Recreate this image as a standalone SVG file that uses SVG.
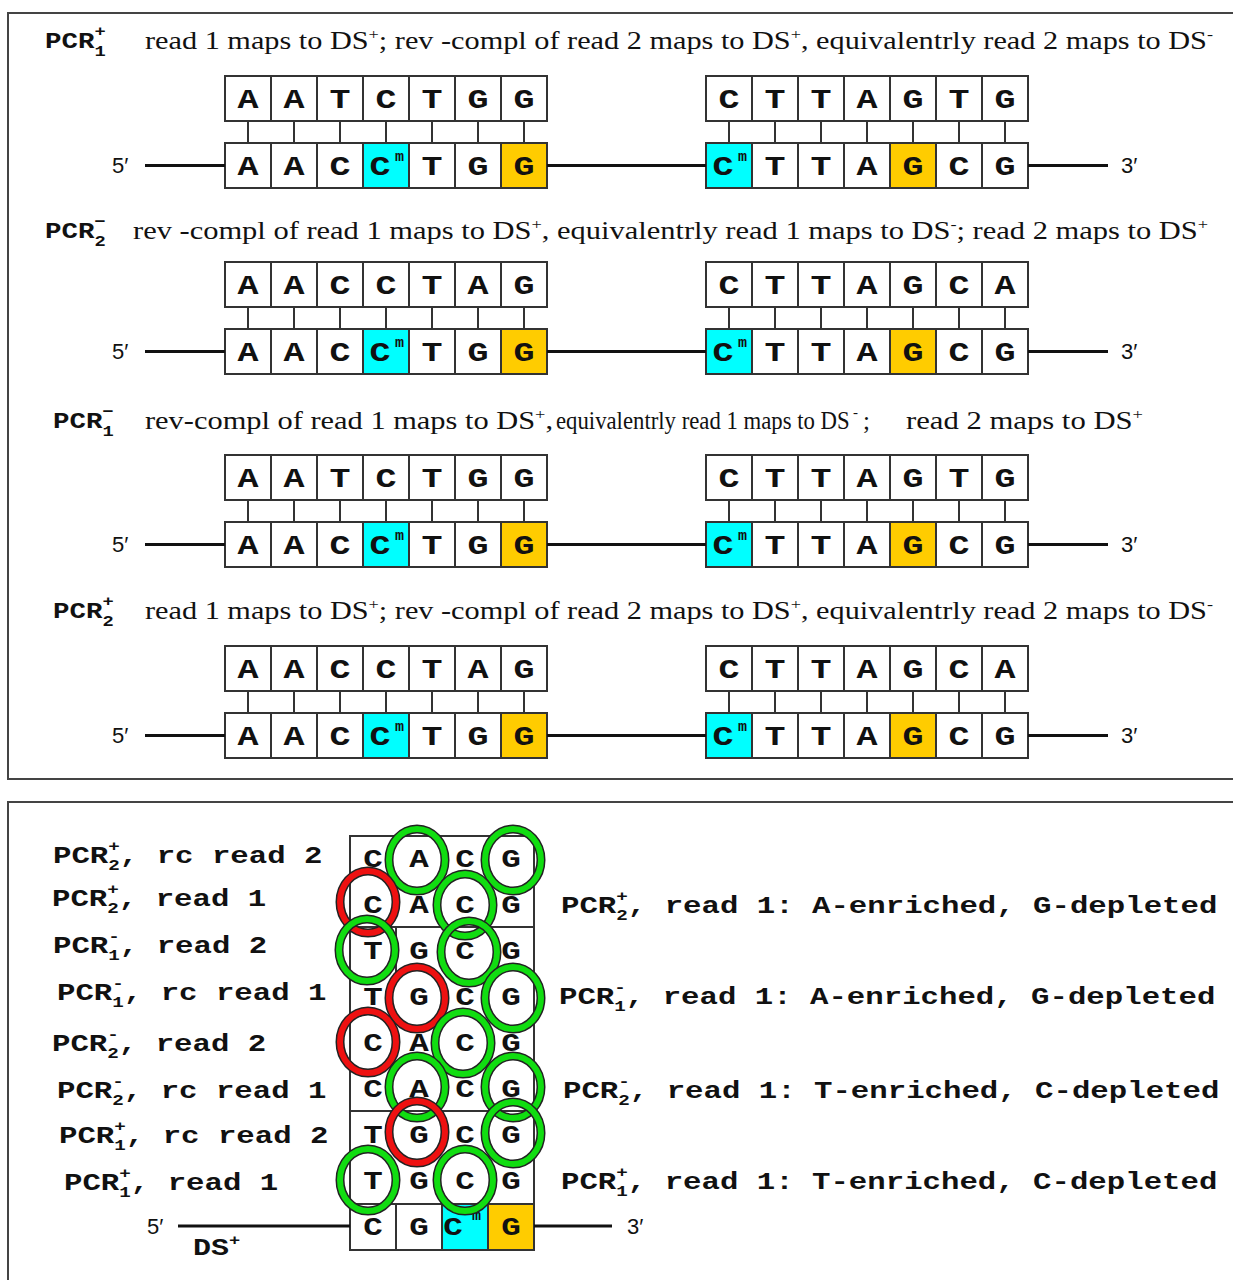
<svg xmlns="http://www.w3.org/2000/svg" width="1233" height="1280" viewBox="0 0 1233 1280">
<style>
.panel{fill:#fff;stroke:#444;stroke-width:2}
.c{fill:#fff;stroke:#333;stroke-width:2}
.cy{fill:#00ffff;stroke:#333;stroke-width:2}
.gd{fill:#ffcc00;stroke:#333;stroke-width:2}
.tk{stroke:#333;stroke-width:2;fill:none}
.st{stroke:#111;stroke-width:3;fill:none}
.L{font-family:"Liberation Mono",monospace;font-weight:bold;font-size:28px;text-anchor:middle;fill:#111}
.m{font-family:"Liberation Mono",monospace;font-weight:bold;font-size:15px;fill:#111}
.h{font-family:"Liberation Serif",serif;font-size:25px;fill:#111}
.sp{font-size:15px}
.p{font-family:"Liberation Mono",monospace;font-weight:bold;font-size:22px;fill:#111}
.s{font-size:15px}
.e{font-family:"Liberation Sans",sans-serif;font-size:22px;fill:#111}
.lab{font-family:"Liberation Mono",monospace;font-weight:bold;font-size:24px;fill:#111}
.g{font-family:"Liberation Mono",monospace;font-weight:bold;font-size:26px;text-anchor:middle;fill:#111}
.rk{fill:none;stroke:#222;stroke-width:9}
.rg{fill:none;stroke:#11dd11;stroke-width:6}
.rr{fill:none;stroke:#ee1111;stroke-width:6}
</style>
<defs>
<g id="duplex">
<path class="tk" d="M248 121V143M294 121V143M340 121V143M386 121V143M432 121V143M478 121V143M524 121V143M729 121V143M775 121V143M821 121V143M867 121V143M913 121V143M959 121V143M1005 121V143"/>
<rect class="c" x="225" y="76" width="46" height="45"/><rect class="c" x="271" y="76" width="46" height="45"/><rect class="c" x="317" y="76" width="46" height="45"/><rect class="c" x="363" y="76" width="46" height="45"/><rect class="c" x="409" y="76" width="46" height="45"/><rect class="c" x="455" y="76" width="46" height="45"/><rect class="c" x="501" y="76" width="46" height="45"/>
<rect class="c" x="706" y="76" width="46" height="45"/><rect class="c" x="752" y="76" width="46" height="45"/><rect class="c" x="798" y="76" width="46" height="45"/><rect class="c" x="844" y="76" width="46" height="45"/><rect class="c" x="890" y="76" width="46" height="45"/><rect class="c" x="936" y="76" width="46" height="45"/><rect class="c" x="982" y="76" width="46" height="45"/>
<rect class="c" x="225" y="143" width="46" height="45"/><rect class="c" x="271" y="143" width="46" height="45"/><rect class="c" x="317" y="143" width="46" height="45"/><rect class="cy" x="363" y="143" width="46" height="45"/><rect class="c" x="409" y="143" width="46" height="45"/><rect class="c" x="455" y="143" width="46" height="45"/><rect class="gd" x="501" y="143" width="46" height="45"/>
<rect class="cy" x="706" y="143" width="46" height="45"/><rect class="c" x="752" y="143" width="46" height="45"/><rect class="c" x="798" y="143" width="46" height="45"/><rect class="c" x="844" y="143" width="46" height="45"/><rect class="gd" x="890" y="143" width="46" height="45"/><rect class="c" x="936" y="143" width="46" height="45"/><rect class="c" x="982" y="143" width="46" height="45"/>
<path class="st" d="M145 165.5H225M547 165.5H706M1028 165.5H1108"/>
<text class="L" transform="scale(1.25 1)" x="198.4 235.2 272 304 345.6 382.4 419.2" y="175">AACCTGG</text>
<text class="L" transform="scale(1.25 1)" x="578.4 620 656.8 693.6 730.4 767.2 804" y="175">CTTAGCG</text>
<text class="m" x="395" y="161">m</text>
<text class="m" x="738" y="161">m</text>
<text class="e" x="112" y="173">5′</text>
<text class="e" x="1121" y="173">3′</text>
</g>
</defs>
<rect x="0" y="0" width="1233" height="1280" fill="#fff"/>
<rect class="panel" x="8" y="13" width="1240" height="766"/>
<rect class="panel" x="8" y="802" width="1240" height="500"/>

<g id="row1">
<text class="p" transform="translate(45 48) scale(1.25 1)">PCR<tspan class="s" dy="8">1</tspan><tspan class="s" dx="-9" dy="-20">+</tspan></text>
<text class="h" x="145" y="49" textLength="1068" lengthAdjust="spacingAndGlyphs">read 1 maps to DS<tspan class="sp" dy="-10">+</tspan><tspan dy="10">; rev -compl of read 2 maps to DS</tspan><tspan class="sp" dy="-10">+</tspan><tspan dy="10">, equivalentrly read 2 maps to DS</tspan><tspan class="sp" dy="-10">-</tspan></text>
<use href="#duplex"/>
<text class="L" transform="scale(1.25 1)" x="198.4 235.2 272 308.8 345.6 382.4 419.2" y="108">AATCTGG</text>
<text class="L" transform="scale(1.25 1)" x="583.2 620 656.8 693.6 730.4 767.2 804" y="108">CTTAGTG</text>
</g>

<g id="row2">
<text class="p" transform="translate(45 238) scale(1.25 1)">PCR<tspan class="s" dy="8">2</tspan><tspan class="s" dx="-9" dy="-20">−</tspan></text>
<text class="h" x="133" y="239" textLength="1075" lengthAdjust="spacingAndGlyphs">rev -compl of read 1 maps to DS<tspan class="sp" dy="-10">+</tspan><tspan dy="10">, equivalentrly read 1 maps to DS</tspan><tspan class="sp" dy="-10">-</tspan><tspan dy="10">; read 2 maps to DS</tspan><tspan class="sp" dy="-10">+</tspan></text>
<use href="#duplex" transform="translate(0 186)"/>
<text class="L" transform="scale(1.25 1)" x="198.4 235.2 272 308.8 345.6 382.4 419.2" y="294">AACCTAG</text>
<text class="L" transform="scale(1.25 1)" x="583.2 620 656.8 693.6 730.4 767.2 804" y="294">CTTAGCA</text>
</g>

<g id="row3">
<text class="p" transform="translate(53 428) scale(1.25 1)">PCR<tspan class="s" dy="8">1</tspan><tspan class="s" dx="-9" dy="-20">−</tspan></text>
<text class="h" x="145" y="429" textLength="408" lengthAdjust="spacingAndGlyphs">rev-compl of read 1 maps to DS<tspan class="sp" dy="-10">+</tspan><tspan dy="10">,</tspan></text>
<text class="h" transform="translate(556 429) scale(0.91 1)">equivalentrly read 1 maps to DS</text>
<text class="h sp" x="853" y="417">-</text>
<text class="h" x="863" y="429">;</text>
<text class="h" x="906" y="429" textLength="237" lengthAdjust="spacingAndGlyphs">read 2 maps to DS<tspan class="sp" dy="-10">+</tspan></text>
<use href="#duplex" transform="translate(0 379)"/>
<text class="L" transform="scale(1.25 1)" x="198.4 235.2 272 308.8 345.6 382.4 419.2" y="487">AATCTGG</text>
<text class="L" transform="scale(1.25 1)" x="583.2 620 656.8 693.6 730.4 767.2 804" y="487">CTTAGTG</text>
</g>

<g id="row4">
<text class="p" transform="translate(53 618) scale(1.25 1)">PCR<tspan class="s" dy="8">2</tspan><tspan class="s" dx="-9" dy="-20">+</tspan></text>
<text class="h" x="145" y="619" textLength="1068" lengthAdjust="spacingAndGlyphs">read 1 maps to DS<tspan class="sp" dy="-10">+</tspan><tspan dy="10">; rev -compl of read 2 maps to DS</tspan><tspan class="sp" dy="-10">+</tspan><tspan dy="10">, equivalentrly read 2 maps to DS</tspan><tspan class="sp" dy="-10">-</tspan></text>
<use href="#duplex" transform="translate(0 570)"/>
<text class="L" transform="scale(1.25 1)" x="198.4 235.2 272 308.8 345.6 382.4 419.2" y="678">AACCTAG</text>
<text class="L" transform="scale(1.25 1)" x="583.2 620 656.8 693.6 730.4 767.2 804" y="678">CTTAGCA</text>
</g>

<g id="grid">
<rect class="c" x="350" y="836" width="184" height="414"/>
<rect class="cy" x="442" y="1204" width="46" height="46"/>
<rect class="gd" x="488" y="1204" width="46" height="46"/>
<path class="tk" d="M350 927H534M350 1111H534M350 1204H534M396 927V973M396 1204V1250M442 1204V1250"/>
<path class="st" d="M178 1226H350M534 1226H612"/>
<g transform="scale(1.25 1)">
<text class="g" x="298.4 335.2 372 408.8" y="867">CACG</text>
<text class="g" x="298.4 335.2 372 408.8" y="913">CACG</text>
<text class="g" x="298.4 335.2 372 408.8" y="959">TGCG</text>
<text class="g" x="298.4 335.2 372 408.8" y="1005">TGCG</text>
<text class="g" x="298.4 335.2 372 408.8" y="1051">CACG</text>
<text class="g" x="298.4 335.2 372 408.8" y="1097">CACG</text>
<text class="g" x="298.4 335.2 372 408.8" y="1143">TGCG</text>
<text class="g" x="298.4 335.2 372 408.8" y="1189">TGCG</text>
<text class="g" x="298.4 335.2" y="1235">CG</text>
<text class="g" x="362.4" y="1235">C</text>
<text class="g" x="408.8" y="1235">G</text>
</g>
<text class="m" x="472" y="1220">m</text>
<text class="e" x="147" y="1234">5′</text>
<text class="e" x="627" y="1234">3′</text>
<text class="lab" transform="translate(193 1255) scale(1.25 1)">DS<tspan class="s" dy="-10">+</tspan></text>
</g>

<g id="rings">
<ellipse class="rk" cx="417" cy="860" rx="28" ry="31"/><ellipse class="rg" cx="417" cy="860" rx="28" ry="31"/>
<ellipse class="rk" cx="513" cy="860" rx="28" ry="31"/><ellipse class="rg" cx="513" cy="860" rx="28" ry="31"/>
<ellipse class="rk" cx="368" cy="902" rx="28" ry="31"/><ellipse class="rr" cx="368" cy="902" rx="28" ry="31"/>
<ellipse class="rk" cx="465" cy="905" rx="28" ry="31"/><ellipse class="rg" cx="465" cy="905" rx="28" ry="31"/>
<ellipse class="rk" cx="367" cy="950" rx="28" ry="31"/><ellipse class="rg" cx="367" cy="950" rx="28" ry="31"/>
<ellipse class="rk" cx="469" cy="952" rx="28" ry="31"/><ellipse class="rg" cx="469" cy="952" rx="28" ry="31"/>
<ellipse class="rk" cx="417" cy="998" rx="28" ry="31"/><ellipse class="rr" cx="417" cy="998" rx="28" ry="31"/>
<ellipse class="rk" cx="513" cy="998" rx="28" ry="31"/><ellipse class="rg" cx="513" cy="998" rx="28" ry="31"/>
<ellipse class="rk" cx="368" cy="1042" rx="28" ry="31"/><ellipse class="rr" cx="368" cy="1042" rx="28" ry="31"/>
<ellipse class="rk" cx="463" cy="1043" rx="28" ry="31"/><ellipse class="rg" cx="463" cy="1043" rx="28" ry="31"/>
<ellipse class="rk" cx="417" cy="1087" rx="28" ry="31"/><ellipse class="rg" cx="417" cy="1087" rx="28" ry="31"/>
<ellipse class="rk" cx="513" cy="1087" rx="28" ry="31"/><ellipse class="rg" cx="513" cy="1087" rx="28" ry="31"/>
<ellipse class="rk" cx="417" cy="1132" rx="28" ry="31"/><ellipse class="rr" cx="417" cy="1132" rx="28" ry="31"/>
<ellipse class="rk" cx="513" cy="1133" rx="28" ry="31"/><ellipse class="rg" cx="513" cy="1133" rx="28" ry="31"/>
<ellipse class="rk" cx="368" cy="1180" rx="28" ry="31"/><ellipse class="rg" cx="368" cy="1180" rx="28" ry="31"/>
<ellipse class="rk" cx="465" cy="1180" rx="28" ry="31"/><ellipse class="rg" cx="465" cy="1180" rx="28" ry="31"/>
</g>

<g id="labels-left">
<text class="lab" transform="translate(53 863) scale(1.28 1)">PCR<tspan class="s" dy="7">2</tspan><tspan class="s" dx="-9" dy="-19">+</tspan><tspan dy="12">, rc read 2</tspan></text>
<text class="lab" transform="translate(52 906) scale(1.28 1)">PCR<tspan class="s" dy="7">2</tspan><tspan class="s" dx="-9" dy="-19">+</tspan><tspan dy="12">, read 1</tspan></text>
<text class="lab" transform="translate(53 953) scale(1.28 1)">PCR<tspan class="s" dy="7">1</tspan><tspan class="s" dx="-9" dy="-19">-</tspan><tspan dy="12">, read 2</tspan></text>
<text class="lab" transform="translate(57 1000) scale(1.28 1)">PCR<tspan class="s" dy="7">1</tspan><tspan class="s" dx="-9" dy="-19">-</tspan><tspan dy="12">, rc read 1</tspan></text>
<text class="lab" transform="translate(52 1051) scale(1.28 1)">PCR<tspan class="s" dy="7">2</tspan><tspan class="s" dx="-9" dy="-19">-</tspan><tspan dy="12">, read 2</tspan></text>
<text class="lab" transform="translate(57 1098) scale(1.28 1)">PCR<tspan class="s" dy="7">2</tspan><tspan class="s" dx="-9" dy="-19">-</tspan><tspan dy="12">, rc read 1</tspan></text>
<text class="lab" transform="translate(59 1143) scale(1.28 1)">PCR<tspan class="s" dy="7">1</tspan><tspan class="s" dx="-9" dy="-19">+</tspan><tspan dy="12">, rc read 2</tspan></text>
<text class="lab" transform="translate(64 1190) scale(1.28 1)">PCR<tspan class="s" dy="7">1</tspan><tspan class="s" dx="-9" dy="-19">+</tspan><tspan dy="12">, read 1</tspan></text>
</g>

<g id="labels-right">
<text class="lab" transform="translate(561 913) scale(1.28 1)">PCR<tspan class="s" dy="7">2</tspan><tspan class="s" dx="-9" dy="-19">+</tspan><tspan dy="12">, read 1: A-enriched, G-depleted</tspan></text>
<text class="lab" transform="translate(559 1004) scale(1.28 1)">PCR<tspan class="s" dy="7">1</tspan><tspan class="s" dx="-9" dy="-19">-</tspan><tspan dy="12">, read 1: A-enriched, G-depleted</tspan></text>
<text class="lab" transform="translate(563 1098) scale(1.28 1)">PCR<tspan class="s" dy="7">2</tspan><tspan class="s" dx="-9" dy="-19">-</tspan><tspan dy="12">, read 1: T-enriched, C-depleted</tspan></text>
<text class="lab" transform="translate(561 1189) scale(1.28 1)">PCR<tspan class="s" dy="7">1</tspan><tspan class="s" dx="-9" dy="-19">+</tspan><tspan dy="12">, read 1: T-enriched, C-depleted</tspan></text>
</g>
</svg>
